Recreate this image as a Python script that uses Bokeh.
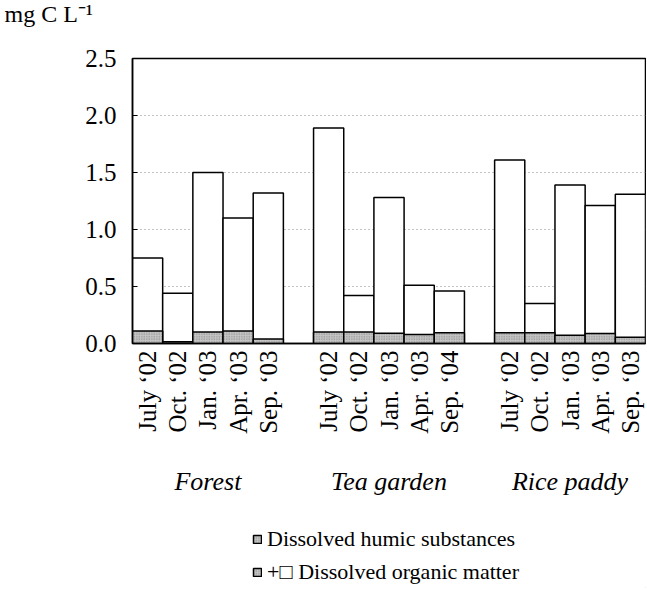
import math
from bokeh.plotting import figure
from bokeh.layouts import column
from bokeh.models import (FactorRange, Range1d, FixedTicker, CategoricalAxis, Legend, LegendItem,
                          CustomJSTickFormatter)
from bokeh.embed import file_html
from bokeh.resources import INLINE

groups = ["Forest", "Tea garden", "Rice paddy"]
months = [
    ["July \u201802", "Oct. \u201802", "Jan. \u201803", "Apr. \u201803", "Sep. \u201803"],
    ["July \u201802", "Oct. \u201802", "Jan. \u201803", "Apr. \u201803", "Sep. \u201804"],
    ["July \u201802", "Oct. \u201802", "Jan. \u201803", "Apr. \u201803", "Sep. \u201803"],
]
dom = [0.75, 0.44, 1.50, 1.10, 1.32,
       1.89, 0.42, 1.28, 0.51, 0.46,
       1.61, 0.35, 1.39, 1.21, 1.31]
humic = [0.11, 0.015, 0.10, 0.11, 0.04,
         0.10, 0.10, 0.09, 0.08, 0.095,
         0.095, 0.095, 0.073, 0.088, 0.055]
y_ticks = [0.0, 0.5, 1.0, 1.5, 2.0, 2.5]
unit_label = "mg C L\u207b\u00b9"
legend_labels = ["Dissolved humic substances", "+\u25a1 Dissolved organic matter"]

factors = [(g, m) for g, ms in zip(groups, months) for m in ms]

FONT = "Liberation Serif"
HUMIC_STYLE = dict(fill_color="#c4c4c4", line_color="black", line_width=1.5,
                   hatch_pattern="dot", hatch_color="#666666", hatch_scale=2.5, hatch_alpha=0.7)


def blank(fig):
    fig.axis.visible = False
    fig.grid.grid_line_color = None
    fig.outline_line_color = None
    fig.background_fill_color = "white"
    fig.border_fill_color = "white"


# header with the unit label (frames of the column are aligned on the chart frame)
hdr = figure(width=646, height=30, x_range=Range1d(0, 1), y_range=Range1d(0, 1),
             output_backend="svg", toolbar_location=None, min_border=0, title=unit_label)
blank(hdr)
hdr.title.align = "left"
hdr.title.offset = -128
hdr.title.standoff = 0
hdr.title.vertical_align = "top"
hdr.title.text_font = FONT
hdr.title.text_font_size = "24px"
hdr.title.text_font_style = "normal"
hdr.title.text_color = "black"

p = figure(x_range=FactorRange(*factors, group_padding=1.0, range_padding=0),
           y_range=Range1d(0, 2.5),
           width=646, height=470, output_backend="svg", toolbar_location=None,
           min_border_left=132, min_border_right=1, min_border_top=28, min_border_bottom=157)

p.outline_line_color = "black"
p.outline_line_width = 1.5
p.background_fill_color = "white"
p.border_fill_color = "white"

p.vbar(x=factors, top=dom, width=1.0, fill_color="white", line_color="black", line_width=1.5)
p.vbar(x=factors, top=humic, width=1.0, **HUMIC_STYLE)

p.xgrid.grid_line_color = None
p.ygrid.grid_line_color = "#888888"
p.ygrid.grid_line_dash = "1 3"
p.ygrid.grid_line_width = 1

p.yaxis.ticker = FixedTicker(ticks=y_ticks)
p.yaxis.formatter = CustomJSTickFormatter(code="return tick.toFixed(1);")
p.yaxis.major_tick_in = 5
p.yaxis.major_tick_out = 0
p.yaxis.major_tick_line_color = "black"
p.yaxis.minor_tick_line_color = None
p.yaxis.axis_line_color = "black"
p.yaxis.axis_line_width = 1.5
p.yaxis.major_label_text_font = FONT
p.yaxis.major_label_text_font_size = "25px"
p.yaxis.major_label_text_color = "black"
p.yaxis.major_label_standoff = 16

xa = p.xaxis[0]
xa.major_tick_in = 0
xa.major_tick_out = 0
xa.axis_line_color = "black"
xa.axis_line_width = 1.5
xa.major_label_orientation = math.pi / 2
xa.major_label_text_font = FONT
xa.major_label_text_font_size = "25px"
xa.major_label_text_color = "black"
xa.major_label_standoff = 7
xa.group_text_font_size = "1px"
xa.group_text_color = None
xa.separator_line_color = None

ga = CategoricalAxis()
ga.major_tick_in = 0
ga.major_tick_out = 0
ga.axis_line_color = None
ga.major_label_orientation = "horizontal"
ga.major_label_text_font_size = "1px"
ga.major_label_text_color = None
ga.major_label_standoff = 30
ga.group_text_font = FONT
ga.group_text_font_size = "26px"
ga.group_text_font_style = "italic"
ga.group_text_color = "black"
ga.separator_line_color = None
p.add_layout(ga, "below")

# legend panel below the chart
lg = figure(width=646, height=88, x_range=Range1d(0, 1), y_range=Range1d(0, 1),
            output_backend="svg", toolbar_location=None, min_border=0)
blank(lg)
# swatch source for the legend glyph (placed far outside the visible range)
r_leg = lg.vbar(x=[50], bottom=[-300], top=[-200], width=0.1, **HUMIC_STYLE)

legend = Legend(items=[LegendItem(label=legend_labels[0], renderers=[r_leg]),
                       LegendItem(label=legend_labels[1], renderers=[r_leg])],
                orientation="vertical", location=(120, 3),
                border_line_color=None, background_fill_alpha=0,
                label_text_font=FONT, label_text_font_size="22px", label_text_color="black",
                glyph_width=10, glyph_height=10, label_standoff=5, spacing=7,
                padding=0, margin=0)
lg.add_layout(legend, "center")

layout = column(hdr, p, lg, spacing=0)
open("out.html", "w").write(file_html(layout, INLINE))
